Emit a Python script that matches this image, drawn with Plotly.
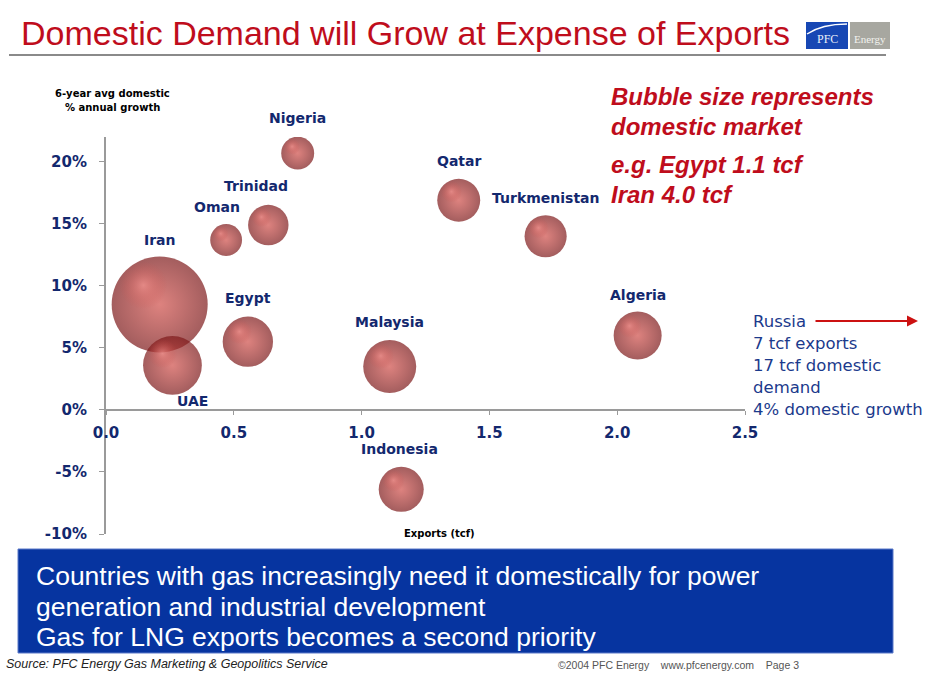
import numpy as np
import plotly.graph_objects as go

# ---- data -----------------------------------------------------------------
countries = ["Iran", "UAE", "Egypt", "Oman", "Trinidad", "Nigeria",
             "Malaysia", "Indonesia", "Qatar", "Turkmenistan", "Algeria"]
exports_tcf = [0.21, 0.26, 0.555, 0.47, 0.635, 0.75, 1.11, 1.155, 1.38, 1.72, 2.08]
growth_pct = [8.5, 3.6, 5.5, 13.7, 14.9, 20.7, 3.5, -6.4, 16.9, 14.0, 6.0]
domestic_tcf = [4.0, 1.5, 1.1, 0.44, 0.71, 0.47, 1.22, 0.88, 0.80, 0.77, 1.0]

x_ticks = [0.0, 0.5, 1.0, 1.5, 2.0, 2.5]
y_ticks = [-10, -5, 0, 5, 10, 15, 20]

russia_lines = ["Russia", "7 tcf exports", "17 tcf domestic", "demand",
                "4% domestic growth"]
box_lines = ["Countries with gas increasingly need it domestically for power",
             "generation and industrial development",
             "Gas for LNG exports becomes a second priority"]

# ---- layout geometry ------------------------------------------------------
W, H = 949, 673
ML, MR, MT, MB = 106, 204, 137, 139
PW, PH = W - ML - MR, H - MT - MB
X_RANGE = [0, 2.5]
Y_RANGE = [-10, 22]
px_per_x = PW / (X_RANGE[1] - X_RANGE[0])
px_per_y = PH / (Y_RANGE[1] - Y_RANGE[0])


def pxx(px):
    return (px - ML) / PW


def pxy(py):
    return (H - MB - py) / PH


def note(px, py, text, font, xanchor="left", **kw):
    """Page-positioned text, given in page pixels from the top-left."""
    return dict(x=pxx(px), y=pxy(py), xref="paper", yref="paper",
                xanchor=xanchor, yanchor="middle", showarrow=False,
                text=text, font=font, **kw)


# label offsets (pixels) relative to each bubble centre
label_shift = {
    "Iran": (0, 64), "UAE": (20, -36), "Egypt": (0, 44), "Oman": (-9, 33),
    "Trinidad": (-12, 39), "Nigeria": (0, 35), "Malaysia": (0, 45),
    "Indonesia": (-2, 40), "Qatar": (0, 39), "Turkmenistan": (0, 38),
    "Algeria": (0, 41),
}

NAVY = "#13286e"
RED = "#bf0d1c"
BUBBLE_MAX_PX = 96
sizeref = 2.0 * max(domestic_tcf) / BUBBLE_MAX_PX ** 2

fig = go.Figure()

# spheres: base body with radial shading
fig.add_trace(go.Scatter(
    x=exports_tcf, y=growth_pct, mode="markers", hoverinfo="skip",
    marker=dict(size=domestic_tcf, sizemode="area", sizeref=sizeref,
                color="#7c1819", line=dict(width=0),
                gradient=dict(type="radial", color="#cf4d48")),
    showlegend=False,
))

# specular highlight toward the upper left of each sphere
diam = np.sqrt(2.0 * np.array(domestic_tcf) / sizeref)
hx = np.array(exports_tcf) - 0.17 * diam / px_per_x
hy = np.array(growth_pct) + 0.2 * diam / px_per_y
fig.add_trace(go.Scatter(
    x=hx, y=hy, mode="markers", hoverinfo="skip",
    marker=dict(size=0.5 * diam, color="rgba(210,80,76,0)", line=dict(width=0),
                gradient=dict(type="radial", color="rgba(246,150,146,0.95)")),
    showlegend=False,
))

annotations = []
for c, xv, yv in zip(countries, exports_tcf, growth_pct):
    dx, dy = label_shift[c]
    annotations.append(dict(
        x=xv, y=yv, xref="x", yref="y", text=c, showarrow=False,
        xanchor="center", yanchor="middle", xshift=dx, yshift=dy,
        font=dict(family="DejaVu Sans", size=14, color=NAVY, weight="bold")))

# title
annotations.append(note(19, 33, "Domestic Demand will Grow at Expense of Exports",
                        dict(family="Liberation Sans", size=34, color=RED)))

# axis titles
ax_font = dict(family="DejaVu Sans", size=10, color="black", weight="bold")
for i, line in enumerate(["6-year avg domestic", "% annual growth"]):
    annotations.append(note(112, 93 + 14 * i, line, ax_font, xanchor="center"))
annotations.append(note(439, 533, "Exports (tcf)", ax_font, xanchor="center"))

# bubble-size note
red_font = dict(family="Liberation Sans", size=24, color=RED)
for i, line in enumerate(["Bubble size represents", "domestic market"]):
    annotations.append(note(609, 96 + 30 * i, f"<b><i>{line}</i></b>", red_font))
for i, line in enumerate(["e.g. Egypt 1.1 tcf", "Iran 4.0 tcf"]):
    annotations.append(note(609, 164 + 30 * i, f"<b><i>{line}</i></b>", red_font))

# Russia note with arrow
ru_font = dict(family="DejaVu Sans", size=16.5, color="#1b3a8c")
for i, line in enumerate(russia_lines):
    annotations.append(note(751, 321 + 22 * i, line, ru_font))
annotations.append(dict(
    x=pxx(918), y=pxy(321), xref="paper", yref="paper", text="",
    showarrow=True, ax=-104, ay=0, axref="pixel", ayref="pixel",
    arrowhead=2, arrowsize=1.1, arrowwidth=2, arrowcolor="#cc1111"))

# message box text
box_font = dict(family="Liberation Sans", size=26.5, color="white")
for i, line in enumerate(box_lines):
    annotations.append(note(34, 576 + 30.5 * i, line, box_font))

# footer
annotations.append(note(4, 664,
                        "<i>Source: PFC Energy Gas Marketing &amp; Geopolitics Service</i>",
                        dict(family="Liberation Sans", size=12.5, color="#222222")))
annotations.append(note(556, 665, "©2004 PFC Energy    www.pfcenergy.com    Page 3",
                        dict(family="Liberation Sans", size=10.5, color="#555555")))

# logo text
annotations.append(note(827, 39, "PFC",
                        dict(family="Liberation Serif", size=12, color="#e8eef8"),
                        xanchor="center"))
annotations.append(note(870, 39, "Energy",
                        dict(family="Liberation Serif", size=11, color="#f2f2ee"),
                        xanchor="center"))

shapes = [
    # rule under the title
    dict(type="line", xref="paper", yref="paper", x0=pxx(9), x1=pxx(886),
         y0=pxy(55), y1=pxy(55), line=dict(color="#8a8a8a", width=2)),
    # message box
    dict(type="rect", xref="paper", yref="paper", x0=pxx(18), x1=pxx(893),
         y0=pxy(549), y1=pxy(653), fillcolor="#0634a0",
         line=dict(color="#5a78c8", width=1), layer="below"),
    # logo blocks
    dict(type="rect", xref="paper", yref="paper", x0=pxx(806), x1=pxx(848),
         y0=pxy(22), y1=pxy(49), fillcolor="#1747b4", line=dict(width=0)),
    dict(type="rect", xref="paper", yref="paper", x0=pxx(850), x1=pxx(890),
         y0=pxy(22), y1=pxy(49), fillcolor="#a7a7a0", line=dict(width=0)),
    dict(type="path", xref="paper", yref="paper",
         path=f"M {pxx(807)},{pxy(34)} Q {pxx(822)},{pxy(24)} {pxx(847)},{pxy(24)}",
         line=dict(color="white", width=1.5)),
]

fig.update_layout(
    width=W, height=H,
    margin=dict(l=ML, r=MR, t=MT, b=MB, pad=0),
    paper_bgcolor="white", plot_bgcolor="white",
    showlegend=False,
    annotations=annotations,
    shapes=shapes,
    xaxis=dict(
        range=X_RANGE, tickmode="array", tickvals=x_ticks,
        ticktext=[f"{v:.1f}" for v in x_ticks],
        showgrid=False, zeroline=False, showline=True,
        linecolor="#9a9a9a", linewidth=2,
        ticks="outside", ticklen=4, tickcolor="#9a9a9a", tickwidth=1,
        ticklabelstandoff=5,
        anchor="free",
        position=(0 - Y_RANGE[0]) / (Y_RANGE[1] - Y_RANGE[0]),
        tickfont=dict(family="DejaVu Sans", size=15, color=NAVY, weight="bold"),
    ),
    yaxis=dict(
        range=Y_RANGE, tickmode="array", tickvals=y_ticks,
        ticktext=[f"{v}%" for v in y_ticks],
        showgrid=False, zeroline=False, showline=True,
        linecolor="#9a9a9a", linewidth=2,
        ticks="outside", ticklen=5, tickcolor="#9a9a9a", tickwidth=1,
        ticklabelstandoff=9,
        tickfont=dict(family="DejaVu Sans", size=15, color=NAVY, weight="bold"),
    ),
)

fig.write_html("out.html")
